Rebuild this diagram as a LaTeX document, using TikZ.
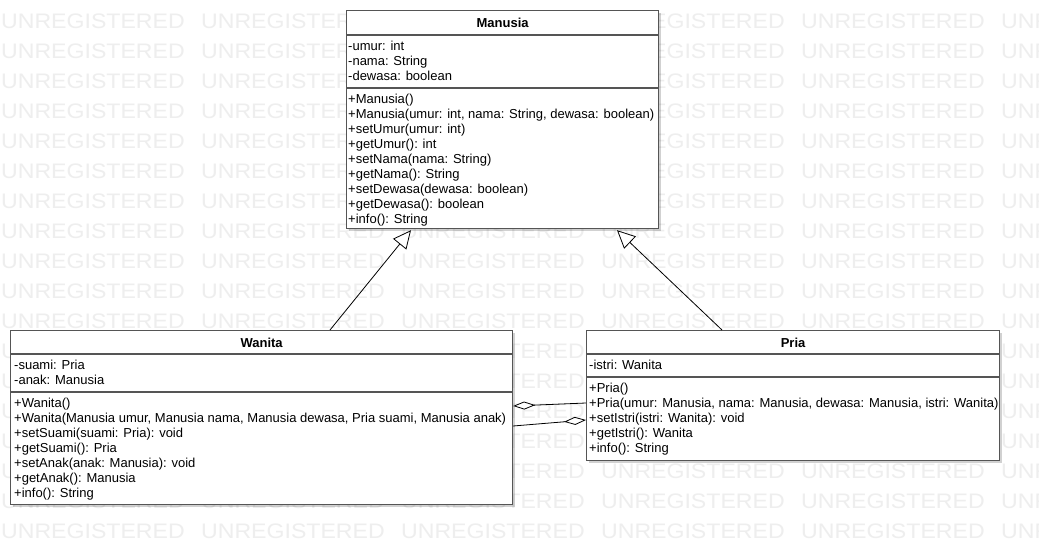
\documentclass[tikz,border=0pt]{standalone}
\usepackage{fontspec}
\setmainfont{Liberation Sans}
\newfontfamily\wmfont[FakeStretch=1.1]{Liberation Sans}
\usetikzlibrary{arrows.meta,calc,shadows}
\definecolor{wmgray}{RGB}{238,238,238}
\definecolor{boxline}{RGB}{85,85,85}
\newcommand\wmword{\makebox[200pt][l]{UNREGISTERED}}
\newcommand\wmrow{\wmword\wmword\wmword\wmword\wmword\wmword}
\begin{document}
\begin{tikzpicture}[x=1pt,y=-1pt,
  classbox/.style={draw=boxline, line width=1.2pt, fill=white, rectangle, inner sep=0pt, anchor=north west,
    drop shadow={shadow xshift=2.5pt, shadow yshift=-2.5pt, fill=black, opacity=0.18}},
  divider/.style={draw=boxline, line width=1.2pt},
  header/.style={font=\fontsize{13}{15}\selectfont\bfseries, anchor=base, inner sep=0pt},
  members/.style={font=\fontsize{13}{15}\selectfont, align=left, anchor=north west, inner sep=0pt},
  wmtext/.style={font=\wmfont\fontsize{21}{21}\selectfont, text=wmgray, anchor=base west, inner sep=0pt},
  gen/.style={draw=black, line width=0.8pt, -{Triangle[open, length=18pt, width=17pt, fill=white]}},
  agg/.style={draw=black, line width=0.8pt, -{Diamond[open, length=22pt, width=8pt, fill=white]}},
]
\useasboundingbox (0,0) rectangle (1039,545);
\fill[white] (0,0) rectangle (1039,545);
% watermark
\begin{scope}
\clip (0,0) rectangle (1039,545);
\foreach \r in {0,...,17} {
  \node[wmtext] (wm\r) at (1, 28.3+30*\r) {\wmrow};
}
\end{scope}

% boxes
\node[classbox, minimum width=312pt, minimum height=218pt] (manusia) at (346,10) {};
\node[classbox, minimum width=502pt, minimum height=174pt] (wanita) at (10,330) {};
\node[classbox, minimum width=413pt, minimum height=130pt] (pria) at (586,330) {};

% dividers
\draw[divider] ($(manusia.north west)+(0,25)$) -- ($(manusia.north east)+(0,25)$);
\draw[divider] ($(manusia.north west)+(0,78)$) -- ($(manusia.north east)+(0,78)$);
\draw[divider] ($(wanita.north west)+(0,24)$) -- ($(wanita.north east)+(0,24)$);
\draw[divider] ($(wanita.north west)+(0,62)$) -- ($(wanita.north east)+(0,62)$);
\draw[divider] ($(pria.north west)+(0,24)$) -- ($(pria.north east)+(0,24)$);
\draw[divider] ($(pria.north west)+(0,47)$) -- ($(pria.north east)+(0,47)$);

% Manusia texts
\node[header] (manusiaH) at ($(manusia.north)+(0,17.5)$) {Manusia};
\node[members] (manusiaA) at ($(manusia.north west)+(2,30)$) {\strut-umur: int\\-nama: String\\-dewasa: boolean};
\node[members] (manusiaM) at ($(manusia.north west)+(2,82.5)$) {\strut+Manusia()\\+Manusia(umur: int, nama: String, dewasa: boolean)\\+setUmur(umur: int)\\+getUmur(): int\\+setNama(nama: String)\\+getNama(): String\\+setDewasa(dewasa: boolean)\\+getDewasa(): boolean\\+info(): String};

% Wanita texts
\node[header] (wanitaH) at ($(wanita.north)+(0,17.5)$) {Wanita};
\node[members] (wanitaA) at ($(wanita.north west)+(4,29)$) {\strut-suami: Pria\\-anak: Manusia};
\node[members] (wanitaM) at ($(wanita.north west)+(4,66.5)$) {\strut+Wanita()\\+Wanita(Manusia umur, Manusia nama, Manusia dewasa, Pria suami, Manusia anak)\\+setSuami(suami: Pria): void\\+getSuami(): Pria\\+setAnak(anak: Manusia): void\\+getAnak(): Manusia\\+info(): String};

% Pria texts
\node[header] (priaH) at ($(pria.north)+(0,17.5)$) {Pria};
\node[members] (priaA) at ($(pria.north west)+(3,29)$) {\strut-istri: Wanita};
\node[members] (priaM) at ($(pria.north west)+(3,51.5)$) {\strut+Pria()\\+Pria(umur: Manusia, nama: Manusia, dewasa: Manusia, istri: Wanita)\\+setIstri(istri: Wanita): void\\+getIstri(): Wanita\\+info(): String};

% connectors
\coordinate (g1s) at ($(wanita.north west)+(320,0)$);
\coordinate (g1e) at ($(manusia.south west)+(65,1)$);
\coordinate (g2s) at ($(pria.north west)+(136,0)$);
\coordinate (g2e) at ($(manusia.south west)+(271,1)$);
\draw[gen] (g1s) -- (g1e);
\draw[gen] (g2s) -- (g2e);

\coordinate (a1s) at ($(pria.north west)+(0,73)$);
\coordinate (a1e) at ($(wanita.north east)+(0,76)$);
\coordinate (a2s) at ($(wanita.north east)+(0,96)$);
\coordinate (a2e) at ($(pria.north west)+(0,90)$);
\draw[agg] (a1s) -- (a1e);
\draw[agg] (a2s) -- (a2e);
\end{tikzpicture}
\end{document}
